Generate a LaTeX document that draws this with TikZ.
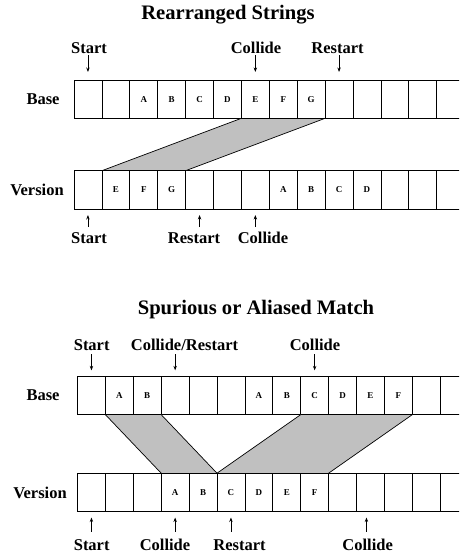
\documentclass[tikz,border=0pt]{standalone}
\usepackage{fontspec}
\setmainfont{Liberation Serif}
\usetikzlibrary{arrows.meta}
\definecolor{matchgray}{RGB}{192,192,192}
\begin{document}
\begin{tikzpicture}[x=1pt,y=-1pt,
  cell/.style={draw=black,line width=0.7pt,minimum width=27.9pt,minimum height=38.3pt,inner sep=0pt,outer sep=0pt},
  lett/.style={font=\fontsize{9}{10}\selectfont\bfseries,inner sep=0pt},
  lbl/.style={font=\fontsize{16.5}{18}\selectfont\bfseries,inner sep=0pt},
  ttl/.style={font=\fontsize{20.6}{23}\selectfont\bfseries,inner sep=0pt},
  arr/.style={line width=0.7pt,-{Stealth[length=4.5pt,width=3.4pt]}},
  band/.style={fill=matchgray},
  edge/.style={line width=0.7pt}]
\fill[white] (0,0) rectangle (459,554);
\useasboundingbox (0,0) rectangle (459,554);
\clip (0,0) rectangle (459,554);

% ---------- Rearranged Strings ----------
\node[ttl] (t1) at (228,15) {Rearranged Strings};
\node[lbl] (tbase) at (43,99.5) {Base};
\node[lbl] (tver) at (37,190) {Version};

\foreach \i in {1,...,15} {
  \node[cell] (tb\i) at ({74+(\i-0.5)*27.9},99.15) {};
  \node[cell] (tv\i) at ({74+(\i-0.5)*27.9},189.85) {};
}
\fill[band] (tb7.south west) -- (tb9.south east) -- (tv4.north east) -- (tv2.north west) -- cycle;
\draw[edge] (tb7.south west) -- (tv2.north west);
\draw[edge] (tb9.south east) -- (tv4.north east);
\draw[edge] (tb7.south west) -- (tb9.south east);
\draw[edge] (tv2.north west) -- (tv4.north east);

\foreach \i/\t in {3/A,4/B,5/C,6/D,7/E,8/F,9/G} {
  \node[lett] (tbl\i) at (tb\i.center) {\t};
}
\foreach \i/\t in {2/E,3/F,4/G,8/A,9/B,10/C,11/D} {
  \node[lett] (tvl\i) at (tv\i.center) {\t};
}

\node[lbl] (ts1) at (89,48) {Start};
\node[lbl] (ts2) at (256,48) {Collide};
\node[lbl] (ts3) at (337.5,48) {Restart};
\draw[arr] ([yshift=25pt]tb1.north) -- ([yshift=8pt]tb1.north);
\draw[arr] ([yshift=25pt]tb7.north) -- ([yshift=8pt]tb7.north);
\draw[arr] ([yshift=25pt]tb10.north) -- ([yshift=8pt]tb10.north);

\node[lbl] (tl1) at (89,238) {Start};
\node[lbl] (tl2) at (194,238) {Restart};
\node[lbl] (tl3) at (263,238) {Collide};
\draw[arr] ([yshift=-18pt]tv1.south) -- ([yshift=-6pt]tv1.south);
\draw[arr] ([yshift=-18pt]tv5.south) -- ([yshift=-6pt]tv5.south);
\draw[arr] ([yshift=-18pt]tv7.south) -- ([yshift=-6pt]tv7.south);

% ---------- Spurious or Aliased Match ----------
\node[ttl] (t2) at (256,310) {Spurious or Aliased Match};
\node[lbl] (bbase) at (43,395.5) {Base};
\node[lbl] (bver) at (40,492.5) {Version};

\foreach \i in {1,...,15} {
  \node[cell] (bb\i) at ({77.5+(\i-0.5)*27.9},395.5) {};
  \node[cell] (bv\i) at ({77.5+(\i-0.5)*27.9},492.35) {};
}
\fill[band] (bb2.south west) -- (bb3.south east) -- (bv5.north east) -- (bv4.north west) -- cycle;
\fill[band] (bb9.south west) -- (bb12.south east) -- (bv9.north east) -- (bv6.north west) -- cycle;
\draw[edge] (bb2.south west) -- (bv4.north west);
\draw[edge] (bb3.south east) -- (bv5.north east);
\draw[edge] (bb9.south west) -- (bv6.north west);
\draw[edge] (bb12.south east) -- (bv9.north east);
\draw[edge] (bb2.south west) -- (bb3.south east);
\draw[edge] (bb9.south west) -- (bb12.south east);
\draw[edge] (bv4.north west) -- (bv9.north east);

\foreach \i/\t in {2/A,3/B,7/A,8/B,9/C,10/D,11/E,12/F} {
  \node[lett] (bbl\i) at (bb\i.center) {\t};
}
\foreach \i/\t in {4/A,5/B,6/C,7/D,8/E,9/F} {
  \node[lett] (bvl\i) at (bv\i.center) {\t};
}

\node[lbl] (bs1) at (91.7,345) {Start};
\node[lbl] (bs2) at (184.5,345) {Collide/Restart};
\node[lbl] (bs3) at (315,345) {Collide};
\draw[arr] ([yshift=22pt]bb1.north) -- ([yshift=6pt]bb1.north);
\draw[arr] ([yshift=22pt]bb4.north) -- ([yshift=6pt]bb4.north);
\draw[arr] ([yshift=22pt]bb9.north) -- ([yshift=6pt]bb9.north);

\node[lbl] (bl1) at (91.7,545) {Start};
\node[lbl] (bl2) at (165,545) {Collide};
\node[lbl] (bl3) at (239.5,545) {Restart};
\node[lbl] (bl4) at (367.7,545) {Collide};
\draw[arr] ([yshift=-20pt]bv1.south) -- ([yshift=-6pt]bv1.south);
\draw[arr] ([yshift=-20pt]bv4.south) -- ([yshift=-6pt]bv4.south);
\draw[arr] ([yshift=-20pt]bv6.south) -- ([yshift=-6pt]bv6.south);
\draw[arr] ([yshift=-20pt,xshift=-4pt]bv11.south) -- ([yshift=-6pt,xshift=-4pt]bv11.south);
\end{tikzpicture}
\end{document}
